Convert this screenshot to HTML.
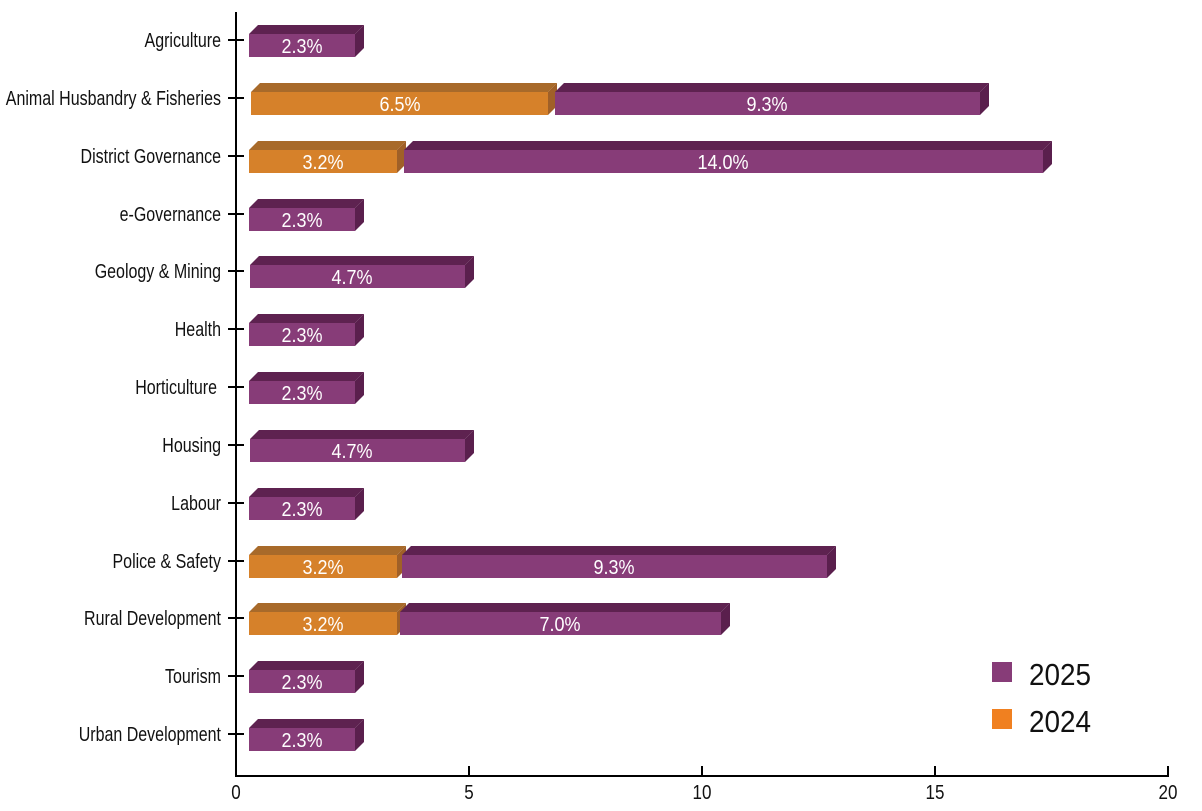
<!DOCTYPE html>
<html><head><meta charset="utf-8"><style>
body{margin:0;background:#fff}
svg{display:block}
.l{font-family:"Liberation Sans",sans-serif;font-size:20px;fill:#111;text-anchor:end}
.v{font-family:"Liberation Sans",sans-serif;font-size:20px;fill:#fff;text-anchor:middle}
.a{font-family:"Liberation Sans",sans-serif;font-size:20px;fill:#111;text-anchor:middle}
.pf{fill:#873c78}.pt{fill:#5e2250}.ps{fill:#5a1f4d}
.of{fill:#d6812a}.ot{fill:#a86a2a}.os{fill:#a06028}
</style></head><body>
<svg width="1202" height="811" viewBox="0 0 1202 811">
<line x1="236" y1="12" x2="236" y2="776" stroke="#000" stroke-width="2"/>
<line x1="235" y1="776" x2="1169" y2="776" stroke="#000" stroke-width="2"/>
<g stroke="#000" stroke-width="2">
<line x1="469" y1="766" x2="469" y2="776"/><line x1="702" y1="766" x2="702" y2="776"/><line x1="935" y1="766" x2="935" y2="776"/><line x1="1168" y1="766" x2="1168" y2="776"/>
<line x1="228" y1="40" x2="244" y2="40"/><line x1="228" y1="98" x2="244" y2="98"/><line x1="228" y1="156" x2="244" y2="156"/><line x1="228" y1="214" x2="244" y2="214"/><line x1="228" y1="271" x2="244" y2="271"/><line x1="228" y1="329" x2="244" y2="329"/><line x1="228" y1="387" x2="244" y2="387"/><line x1="228" y1="445" x2="244" y2="445"/><line x1="228" y1="503" x2="244" y2="503"/><line x1="228" y1="561" x2="244" y2="561"/><line x1="228" y1="618" x2="244" y2="618"/><line x1="228" y1="676" x2="244" y2="676"/><line x1="228" y1="734" x2="244" y2="734"/>
</g>
<g class="a"><text transform="translate(236,799) scale(.85,1)">0</text><text transform="translate(469,799) scale(.85,1)">5</text><text transform="translate(702,799) scale(.85,1)">10</text><text transform="translate(935,799) scale(.85,1)">15</text><text transform="translate(1168,799) scale(.85,1)">20</text></g>
<g class="l">
<text transform="translate(221,47) scale(.8,1)">Agriculture</text>
<text transform="translate(221,105) scale(.8,1)">Animal Husbandry &amp; Fisheries</text>
<text transform="translate(221,163) scale(.8,1)">District Governance</text>
<text transform="translate(221,221) scale(.8,1)">e-Governance</text>
<text transform="translate(221,278) scale(.8,1)">Geology &amp; Mining</text>
<text transform="translate(221,336) scale(.8,1)">Health</text>
<text transform="translate(217,394) scale(.8,1)">Horticulture</text>
<text transform="translate(221,452) scale(.8,1)">Housing</text>
<text transform="translate(221,510) scale(.8,1)">Labour</text>
<text transform="translate(221,568) scale(.8,1)">Police &amp; Safety</text>
<text transform="translate(221,625) scale(.8,1)">Rural Development</text>
<text transform="translate(221,683) scale(.8,1)">Tourism</text>
<text transform="translate(221,741) scale(.8,1)">Urban Development</text>
</g>
<polygon class="pt" points="249,34 258,25 364,25 355,34"/><polygon class="ps" points="355,34 364,25 364,48 355,57"/><rect class="pf" x="249" y="34" width="106" height="23"/>
<text class="v" transform="translate(302,53) scale(.9,1)">2.3%</text>
<polygon class="ot" points="251,92 260,83 557,83 548,92"/><polygon class="os" points="548,92 557,83 557,106 548,115"/><rect class="of" x="251" y="92" width="297" height="23"/>
<text class="v" transform="translate(400,111) scale(.9,1)">6.5%</text>
<polygon class="pt" points="555,92 564,83 989,83 980,92"/><polygon class="ps" points="980,92 989,83 989,106 980,115"/><rect class="pf" x="555" y="92" width="425" height="23"/>
<text class="v" transform="translate(767,111) scale(.9,1)">9.3%</text>
<polygon class="ot" points="249,150 258,141 406,141 397,150"/><polygon class="os" points="397,150 406,141 406,164 397,173"/><rect class="of" x="249" y="150" width="148" height="23"/>
<text class="v" transform="translate(323,169) scale(.9,1)">3.2%</text>
<polygon class="pt" points="404,150 413,141 1052,141 1043,150"/><polygon class="ps" points="1043,150 1052,141 1052,164 1043,173"/><rect class="pf" x="404" y="150" width="639" height="23"/>
<text class="v" transform="translate(723,169) scale(.9,1)">14.0%</text>
<polygon class="pt" points="249,208 258,199 364,199 355,208"/><polygon class="ps" points="355,208 364,199 364,222 355,231"/><rect class="pf" x="249" y="208" width="106" height="23"/>
<text class="v" transform="translate(302,227) scale(.9,1)">2.3%</text>
<polygon class="pt" points="250,265 259,256 474,256 465,265"/><polygon class="ps" points="465,265 474,256 474,279 465,288"/><rect class="pf" x="250" y="265" width="215" height="23"/>
<text class="v" transform="translate(352,284) scale(.9,1)">4.7%</text>
<polygon class="pt" points="249,323 258,314 364,314 355,323"/><polygon class="ps" points="355,323 364,314 364,337 355,346"/><rect class="pf" x="249" y="323" width="106" height="23"/>
<text class="v" transform="translate(302,342) scale(.9,1)">2.3%</text>
<polygon class="pt" points="249,381 258,372 364,372 355,381"/><polygon class="ps" points="355,381 364,372 364,395 355,404"/><rect class="pf" x="249" y="381" width="106" height="23"/>
<text class="v" transform="translate(302,400) scale(.9,1)">2.3%</text>
<polygon class="pt" points="250,439 259,430 474,430 465,439"/><polygon class="ps" points="465,439 474,430 474,453 465,462"/><rect class="pf" x="250" y="439" width="215" height="23"/>
<text class="v" transform="translate(352,458) scale(.9,1)">4.7%</text>
<polygon class="pt" points="249,497 258,488 364,488 355,497"/><polygon class="ps" points="355,497 364,488 364,511 355,520"/><rect class="pf" x="249" y="497" width="106" height="23"/>
<text class="v" transform="translate(302,516) scale(.9,1)">2.3%</text>
<polygon class="ot" points="249,555 258,546 406,546 397,555"/><polygon class="os" points="397,555 406,546 406,569 397,578"/><rect class="of" x="249" y="555" width="148" height="23"/>
<text class="v" transform="translate(323,574) scale(.9,1)">3.2%</text>
<polygon class="pt" points="402,555 411,546 836,546 827,555"/><polygon class="ps" points="827,555 836,546 836,569 827,578"/><rect class="pf" x="402" y="555" width="425" height="23"/>
<text class="v" transform="translate(614,574) scale(.9,1)">9.3%</text>
<polygon class="ot" points="249,612 258,603 406,603 397,612"/><polygon class="os" points="397,612 406,603 406,626 397,635"/><rect class="of" x="249" y="612" width="148" height="23"/>
<text class="v" transform="translate(323,631) scale(.9,1)">3.2%</text>
<polygon class="pt" points="400,612 409,603 730,603 721,612"/><polygon class="ps" points="721,612 730,603 730,626 721,635"/><rect class="pf" x="400" y="612" width="321" height="23"/>
<text class="v" transform="translate(560,631) scale(.9,1)">7.0%</text>
<polygon class="pt" points="249,670 258,661 364,661 355,670"/><polygon class="ps" points="355,670 364,661 364,684 355,693"/><rect class="pf" x="249" y="670" width="106" height="23"/>
<text class="v" transform="translate(302,689) scale(.9,1)">2.3%</text>
<polygon class="pt" points="249,728 258,719 364,719 355,728"/><polygon class="ps" points="355,728 364,719 364,742 355,751"/><rect class="pf" x="249" y="728" width="106" height="23"/>
<text class="v" transform="translate(302,747) scale(.9,1)">2.3%</text>
<rect x="992" y="662" width="20" height="20" fill="#873c78"/>
<rect x="992" y="709" width="20" height="20" fill="#f08020"/>
<text transform="translate(1029,685) scale(.9,1)" style="font-family:'Liberation Sans',sans-serif;font-size:31px;fill:#111">2025</text>
<text transform="translate(1029,732) scale(.9,1)" style="font-family:'Liberation Sans',sans-serif;font-size:31px;fill:#111">2024</text>
</svg>
</body></html>
